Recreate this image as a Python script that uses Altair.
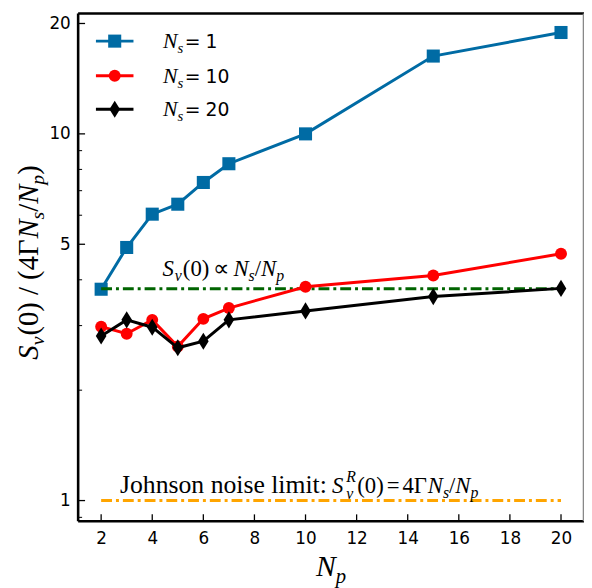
import altair as alt
import pandas as pd

# ---------------- data ----------------
Np = [2, 3, 4, 5, 6, 7, 10, 15, 20]
ns1 = [3.77, 4.90, 6.04, 6.43, 7.37, 8.29, 10.0, 16.3, 18.9]
ns10 = [2.98, 2.85, 3.11, 2.63, 3.13, 3.35, 3.83, 4.11, 4.71]
ns20 = [2.81, 3.11, 2.97, 2.61, 2.72, 3.11, 3.29, 3.60, 3.79]
series_values = [ns1, ns10, ns20]
legend_numbers = ["1", "10", "20"]
series_colors = ["#006BA4", "#FF0000", "#000000"]
series_shapes = ["square", "circle", "M0,-1L0.62,0L0,1L-0.62,0Z"]
series_sizes = [175, 145, 300]

ref_x = [2, 20]
prop_level = 3.78      # S_v(0) ∝ Ns/Np
johnson_level = 1.0    # Johnson noise limit

x_ticks = [2, 4, 6, 8, 10, 12, 14, 16, 18, 20]
y_major = [1, 5, 10, 20]
y_minor = [0.9, 2, 3, 4, 6, 7, 8, 9]

# annotation anchors (data coordinates)
prop_anchor = {"x": 4.40, "y": 4.09}
johnson_anchor = {"x": 2.74, "y": 1.051}

# ---------------- layout ----------------
W, H = 512, 514
SERIF = "Liberation Serif"
SANS = "DejaVu Sans"
LW = 3

xscale = alt.Scale(domain=[1.1, 20.9], nice=False, zero=False)
yscale = alt.Scale(type="log", domain=[0.878, 21.3], nice=False)

X = alt.X("x:Q", scale=xscale,
          axis=alt.Axis(values=x_ticks, ticks=False, domain=False, grid=False,
                        labelFont=SANS, labelFontSize=17, labelColor="black",
                        labelPadding=9, title=None, labelFlush=False))
Y = alt.Y("y:Q", scale=yscale,
          axis=alt.Axis(values=y_major, format="d", ticks=False, domain=False,
                        grid=False, labelFont=SANS, labelFontSize=17,
                        labelColor="black", labelPadding=8, title=None))
Xs = alt.X("x:Q", scale=xscale)
Ys = alt.Y("y:Q", scale=yscale)

# Times-like widths (em) for composing math text
UP = {"(": .333, ")": .333, "0": .5, "4": .5, "/": .278, " ": .25, "Γ": .611,
      "=": .564, "∝": .713, "J": .389, "o": .5, "h": .5, "n": .5, "s": .389,
      "i": .278, "e": .444, "l": .278, "m": .778, "t": .278, ":": .278}
IT = {"S": .5, "N": .667, "v": .444, "s": .389, "p": .5, "R": .611}


def width(txt, italic, size):
    table = IT if italic else UP
    return sum(table.get(c, .5) for c in txt) * size


def compose(pieces):
    """pieces: (text, italic, size, dy, advance, font) -> list with dx."""
    out = []
    cur = 0.0
    for txt, italic, size, dy, adv, font in pieces:
        out.append((txt, italic, size, dy, cur, font))
        if adv is not False:
            cur += width(txt, italic, size) + (0 if adv is True else adv)
    return out, cur


one = pd.DataFrame({"a": [0]})


def text_layers(pieces, enc, data=one, angle=0, center=False, offset=0.0):
    comp, total = compose(pieces)
    shift = (-total / 2 if center else 0) + offset
    out = []
    for txt, italic, size, dy, dx, font in comp:
        m = alt.Chart(data).mark_text(
            text=txt, align="left", baseline="alphabetic", font=font,
            fontStyle="italic" if italic else "normal", fontSize=size,
            dx=dx + shift, dy=dy, angle=angle, color="black")
        out.append(m.encode(**enc))
    return out


layers = []

# series and reference lines
df_ref_g = pd.DataFrame({"x": ref_x, "y": [prop_level] * 2})
df_ref_o = pd.DataFrame({"x": ref_x, "y": [johnson_level] * 2})
dash = [11, 4, 3, 4]


def series_layers(i):
    d = pd.DataFrame({"x": Np, "y": series_values[i]})
    ln = alt.Chart(d).mark_line(color=series_colors[i], strokeWidth=LW).encode(x=X, y=Y)
    pt = alt.Chart(d).mark_point(shape=series_shapes[i], filled=True, size=series_sizes[i],
                                 color=series_colors[i], opacity=1, strokeWidth=0).encode(x=Xs, y=Ys)
    return [ln, pt]


layers += series_layers(0)
layers.append(alt.Chart(df_ref_g).mark_line(color="darkgreen", strokeWidth=LW,
                                            strokeDash=dash).encode(x=Xs, y=Ys))
layers.append(alt.Chart(df_ref_o).mark_line(color="orange", strokeWidth=LW,
                                            strokeDash=dash).encode(x=Xs, y=Ys))
layers += series_layers(1)
layers += series_layers(2)

# inward ticks
layers.append(alt.Chart(pd.DataFrame({"x": x_ticks})).mark_rule(color="black", strokeWidth=1.3)
              .encode(x=Xs, y=alt.value(H), y2=alt.value(H - 7)))
layers.append(alt.Chart(pd.DataFrame({"y": y_major})).mark_rule(color="black", strokeWidth=1.3)
              .encode(y=Ys, x=alt.value(0), x2=alt.value(7)))
layers.append(alt.Chart(pd.DataFrame({"y": y_minor})).mark_rule(color="black", strokeWidth=1)
              .encode(y=Ys, x=alt.value(0), x2=alt.value(4)))

# frame (spines)
SW = 2.6
layers.append(alt.Chart(one).mark_rule(color="black", strokeWidth=SW)
              .encode(x=alt.value(0), x2=alt.value(W), y=alt.value(0)))
layers.append(alt.Chart(one).mark_rule(color="black", strokeWidth=SW)
              .encode(x=alt.value(0), x2=alt.value(W), y=alt.value(H)))
layers.append(alt.Chart(one).mark_rule(color="black", strokeWidth=SW)
              .encode(y=alt.value(0), y2=alt.value(H), x=alt.value(0)))
layers.append(alt.Chart(one).mark_rule(color="#888888", strokeWidth=SW)
              .encode(y=alt.value(0), y2=alt.value(H), x=alt.value(W)))

# legend
rows = [28, 63, 97]
for i, ry in enumerate(rows):
    layers.append(alt.Chart(one).mark_rule(color=series_colors[i], strokeWidth=LW)
                  .encode(x=alt.value(18), x2=alt.value(56), y=alt.value(ry)))
    layers.append(alt.Chart(one).mark_point(shape=series_shapes[i], filled=True,
                                            size=series_sizes[i], color=series_colors[i],
                                            opacity=1, strokeWidth=0)
                  .encode(x=alt.value(37), y=alt.value(ry)))
    enc = {"x": alt.value(86), "y": alt.value(ry + 7)}
    layers += text_layers([("N", True, 22, 0, True, SERIF),
                           ("s", True, 15, 5, True, SERIF)], enc)
    layers.append(alt.Chart(one).mark_text(text="=", align="left", baseline="alphabetic",
                                           font=SANS, fontSize=19, color="black")
                  .encode(x=alt.value(108), y=alt.value(ry + 7)))
    layers.append(alt.Chart(one).mark_text(text=legend_numbers[i], align="left",
                                           baseline="alphabetic", font=SANS, fontSize=19,
                                           color="black")
                  .encode(x=alt.value(129), y=alt.value(ry + 7)))

# annotation: S_v(0) ∝ N_s/N_p
pa = pd.DataFrame([prop_anchor])
f, fs = 23, 16
prop_pieces = [("S", True, f, 0, 1, SERIF), ("v", True, fs, 5, 1, SERIF),
               ("(0)", False, f, 0, 4, SERIF), ("∝", False, f, 0, 4, SERIF),
               ("N", True, f, 0, True, SERIF), ("s", True, fs, 5, True, SERIF),
               ("/", False, f, 0, True, SERIF), ("N", True, f, 0, True, SERIF),
               ("p", True, fs, 5, True, SERIF)]
layers += text_layers(prop_pieces, {"x": Xs, "y": Ys}, data=pa)

# annotation: Johnson noise limit
ja = pd.DataFrame([johnson_anchor])
fj = 26
lead = "Johnson noise limit:"
lead_w = width(lead, False, fj) + 5
layers.append(alt.Chart(ja).mark_text(text=lead, align="left", baseline="alphabetic",
                                      font=SERIF, fontSize=fj, color="black")
              .encode(x=Xs, y=Ys))
john_pieces = [("S", True, f, 0, 3, SERIF), ("R", True, fs, -11, False, SERIF),
               ("v", True, fs, 6, 4, SERIF), ("(0)", False, f, 0, 3, SERIF),
               ("=", False, f, 0, 3, SERIF), ("4Γ", False, f, 0, True, SERIF),
               ("N", True, f, 0, True, SERIF), ("s", True, fs, 5, True, SERIF),
               ("/", False, f, 0, True, SERIF), ("N", True, f, 0, True, SERIF),
               ("p", True, fs, 5, True, SERIF)]
layers += text_layers(john_pieces, {"x": Xs, "y": Ys}, data=ja, offset=lead_w)

# x title N_p
layers += text_layers([("N", True, 30, 0, True, SERIF), ("p", True, 21, 7, True, SERIF)],
                      {"x": alt.value(W / 2), "y": alt.value(H + 55)}, center=True)

# y title S_v(0) / (4ΓN_s/N_p)
fy, fys = 29, 20
ytitle = [("S", True, fy, 0, True, SERIF), ("v", True, fys, 6, 1, SERIF),
          ("(0) / (4Γ", False, fy, 0, True, SERIF), ("N", True, fy, 0, True, SERIF),
          ("s", True, fys, 6, True, SERIF), ("/", False, fy, 0, True, SERIF),
          ("N", True, fy, 0, True, SERIF), ("p", True, fys, 6, True, SERIF),
          (")", False, fy, 0, True, SERIF)]
layers += text_layers(ytitle, {"x": alt.value(-41), "y": alt.value(252)}, angle=270, center=True)

chart = alt.layer(*layers).properties(
    width=W, height=H,
    autosize=alt.AutoSizeParams(type="none"),
    padding={"left": 71, "top": 2, "right": 0, "bottom": 64},
    background="white",
).configure_view(strokeWidth=0, stroke=None)

chart.save("out.html", embed_options={"renderer": "svg", "actions": False})
